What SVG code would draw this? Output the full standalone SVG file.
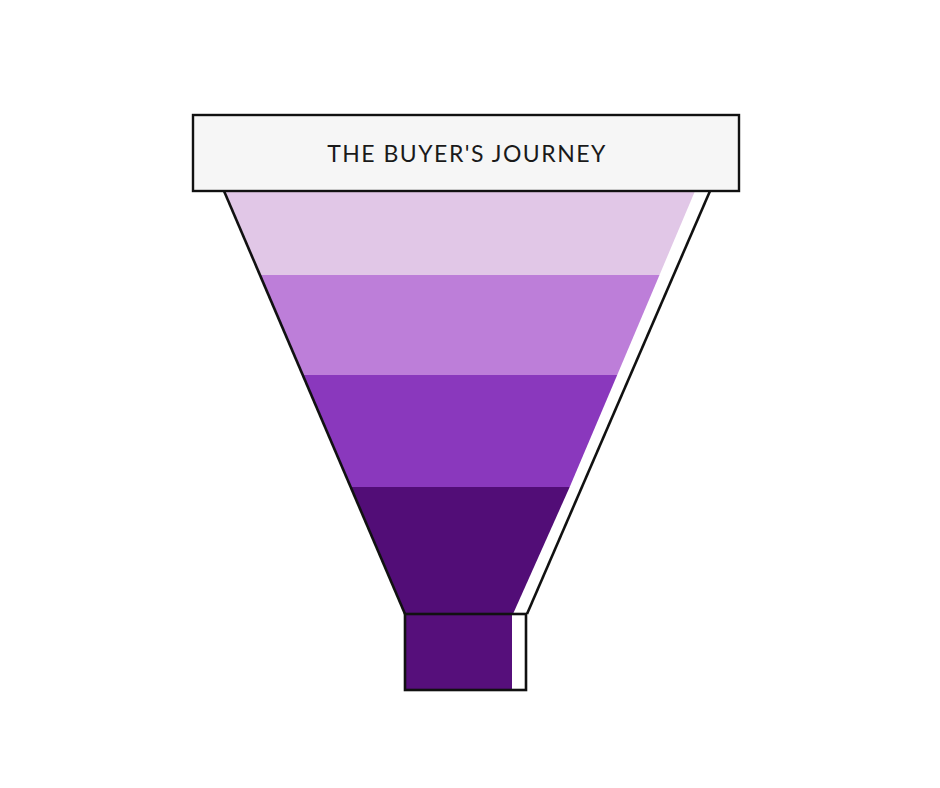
<svg xmlns="http://www.w3.org/2000/svg" width="940" height="788" viewBox="0 0 940 788">
  <style>
    .outline { fill: none; stroke: #111; stroke-width: 2.6; stroke-linejoin: miter; }
    .title { font-family: Lato, "Open Sans", sans-serif; font-size: 23px; fill: #1a1a1a; text-anchor: middle; letter-spacing: 1.5px; }
  </style>
  <rect width="940" height="788" fill="#ffffff"/>
  <g id="funnel-bands">
    <polygon id="band-1" points="224,191 695,191 659.5,275 259.9,275" fill="#e1c7e7"/>
    <polygon id="band-2" points="259.9,275 659.5,275 617.2,375 302.7,375" fill="#bd7ed9"/>
    <polygon id="band-3" points="302.7,375 617.2,375 569.7,487 350.6,487" fill="#8a38bd"/>
    <polygon id="band-4" points="350.6,487 569.7,487 513,614 405,614" fill="#520d77"/>
    <rect id="neck-fill" x="405" y="614" width="107" height="76" fill="#560f7b"/>
  </g>
  <g id="connectors">
    <polyline class="outline" points="224,191 405,614"/>
    <polyline class="outline" points="710,191 527,614"/>
  </g>
  <g id="neck">
    <rect class="outline" x="405" y="614" width="121" height="76"/>
  </g>
  <g id="header">
    <rect x="193" y="115" width="546" height="76" fill="#f6f6f6" stroke="#111" stroke-width="2.4"/>
    <text class="title" x="467" y="162">THE BUYER'S JOURNEY</text>
  </g>
</svg>
